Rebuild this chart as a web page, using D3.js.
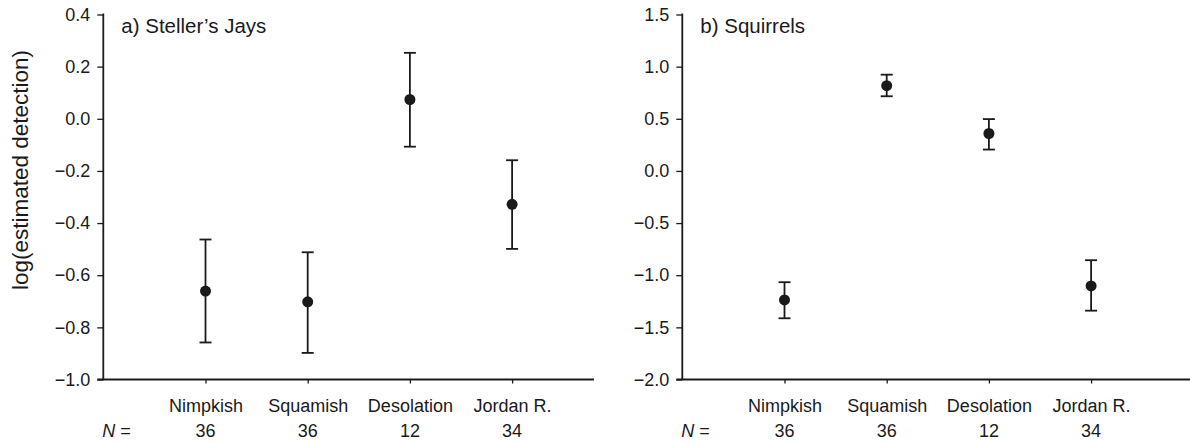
<!DOCTYPE html>
<html>
<head>
<meta charset="utf-8">
<script src="https://cdn.jsdelivr.net/npm/d3@7"></script>
<style>
  html, body { margin: 0; padding: 0; background: #fff; }
  svg { display: block; }
  text { font-family: "Liberation Sans", Arial, Helvetica, sans-serif; fill: #1a1a1a; }
</style>
</head>
<body>
<svg id="chart" width="1190" height="443"></svg>
<script>
// ---- data ----
const categories = ["Nimpkish", "Squamish", "Desolation", "Jordan R."];
const sampleSizes = [36, 36, 12, 34];

const jayMean  = [-0.661, -0.702, 0.074, -0.328];
const jayUpper = [-0.463, -0.512, 0.253, -0.159];
const jayLower = [-0.858, -0.898, -0.107, -0.499];
const jayTicks = [0.4, 0.2, 0.0, -0.2, -0.4, -0.6, -0.8, -1.0];

const squirrelMean  = [-1.237, 0.817, 0.359, -1.103];
const squirrelUpper = [-1.067, 0.923, 0.497, -0.856];
const squirrelLower = [-1.413, 0.716, 0.205, -1.340];
const squirrelTicks = [1.5, 1.0, 0.5, 0.0, -0.5, -1.0, -1.5, -2.0];

const panelTitles = ["a) Steller\u2019s Jays", "b) Squirrels"];
const yLabel = "log(estimated detection)";

// ---- layout ----
const svg = d3.select("#chart");
const ink = "#1a1a1a";
const fs = 18;
const yTop = 14.5, yBottom = 379.5;
const step = 102.2;

const panels = [
  { axisX: 103.3, xEnd: 594, title: panelTitles[0], ticks: jayTicks, domain: [-1.0, 0.4],
    mean: jayMean, upper: jayUpper, lower: jayLower, fmt: d3.format(".1f") },
  { axisX: 682.3, xEnd: 1195, title: panelTitles[1], ticks: squirrelTicks, domain: [-2.0, 1.5],
    mean: squirrelMean, upper: squirrelUpper, lower: squirrelLower, fmt: d3.format(".1f") }
];

panels.forEach((p, pi) => {
  const g = svg.append("g");
  const y = d3.scaleLinear().domain(p.domain).range([yBottom, yTop]);
  const x = d3.scaleLinear().domain([0, 1]).range([p.axisX, p.axisX + step]);
  const idx = categories.map((c, i) => i + 1);

  // y axis
  const yAxis = d3.axisLeft(y).tickValues(p.ticks).tickSize(6).tickPadding(7)
    .tickFormat(d => (d < 0 ? "\u2212" : "") + p.fmt(Math.abs(d)));
  const ya = g.append("g").attr("transform", `translate(${p.axisX},0)`).call(yAxis);
  ya.select(".domain").remove();
  ya.selectAll(".tick line").attr("stroke", ink).attr("stroke-width", 1.3);
  ya.selectAll(".tick text").attr("font-size", fs).attr("fill", ink)
    .style("font-family", '"Liberation Sans", Arial, sans-serif');
  g.append("line").attr("x1", p.axisX).attr("x2", p.axisX)
    .attr("y1", y(p.domain[1]) - 1).attr("y2", y(p.domain[0]))
    .attr("stroke", ink).attr("stroke-width", 1.8);

  // x axis
  const xAxis = d3.axisBottom(x).tickValues(idx).tickSize(4).tickPadding(16)
    .tickFormat((d, i) => categories[i]);
  const xa = g.append("g").attr("transform", `translate(0,${yBottom})`).call(xAxis);
  xa.select(".domain").remove();
  xa.selectAll(".tick line").attr("stroke", ink).attr("stroke-width", 1.3);
  xa.selectAll(".tick text").attr("font-size", fs).attr("fill", ink)
    .style("font-family", '"Liberation Sans", Arial, sans-serif');
  g.append("line").attr("x1", p.axisX - 6).attr("x2", p.xEnd)
    .attr("y1", yBottom).attr("y2", yBottom)
    .attr("stroke", ink).attr("stroke-width", 1.8);

  // N = row
  const nt = g.append("text").attr("x", p.axisX - 1).attr("y", 437)
    .attr("font-size", fs).attr("fill", ink);
  nt.append("tspan").attr("font-style", "italic").text("N");
  nt.append("tspan").text(" =");
  g.selectAll("text.nval").data(sampleSizes).join("text")
    .attr("class", "nval")
    .attr("x", (d, i) => x(i + 1)).attr("y", 437)
    .attr("text-anchor", "middle").attr("font-size", fs).attr("fill", ink)
    .text(d => d);

  // title
  g.append("text").attr("x", p.axisX + 18).attr("y", 33)
    .attr("font-size", 20.5).attr("fill", ink).text(p.title);

  // error bars
  const capW = 6;
  categories.forEach((c, i) => {
    const cx = x(i + 1);
    g.append("line").attr("x1", cx).attr("x2", cx)
      .attr("y1", y(p.upper[i])).attr("y2", y(p.lower[i]))
      .attr("stroke", ink).attr("stroke-width", 1.8);
    [p.upper[i], p.lower[i]].forEach(v => {
      g.append("line").attr("x1", cx - capW).attr("x2", cx + capW)
        .attr("y1", y(v)).attr("y2", y(v))
        .attr("stroke", ink).attr("stroke-width", 1.8);
    });
    g.append("circle").attr("cx", cx).attr("cy", y(p.mean[i])).attr("r", 5.5)
      .attr("fill", ink);
  });

  if (pi === 0) {
    g.append("text")
      .attr("transform", `translate(28,170) rotate(-90)`)
      .attr("text-anchor", "middle").attr("font-size", 22.5).attr("fill", ink)
      .text(yLabel);
  }
});
</script>
</body>
</html>
